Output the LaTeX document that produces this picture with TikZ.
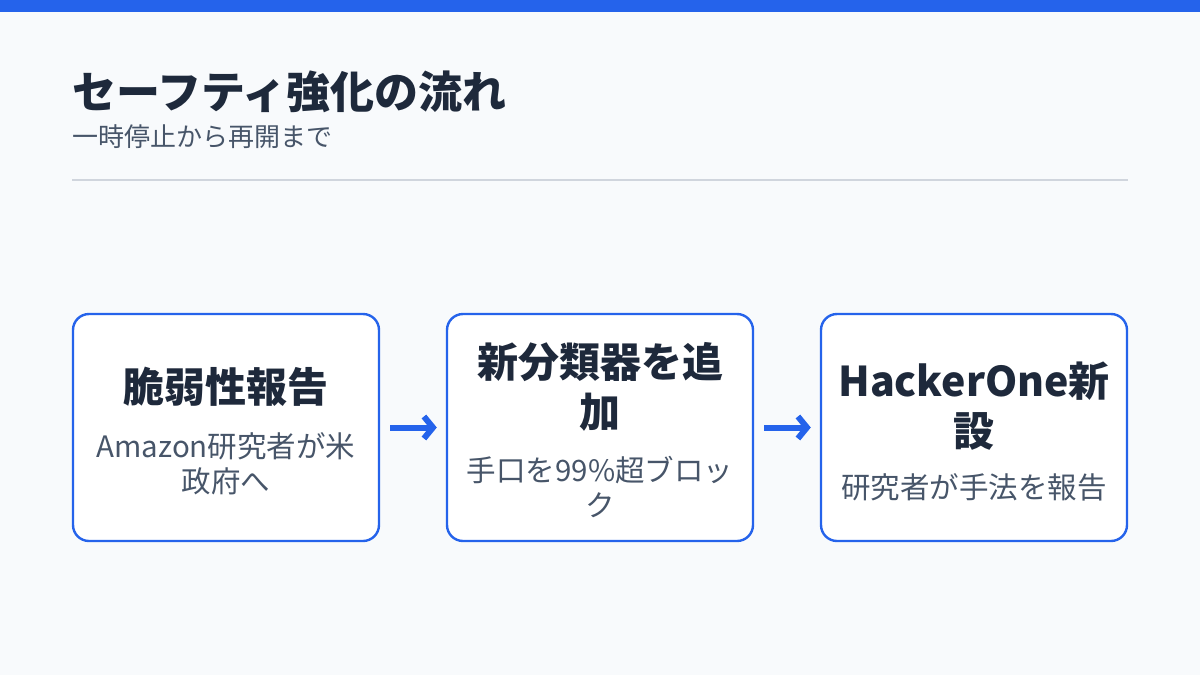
\documentclass[tikz,border=0pt]{standalone}
\usepackage{fontspec}
\setmainfont{Noto Sans CJK JP}
\usepackage{tikz}
\usetikzlibrary{arrows.meta, positioning, calc}
\definecolor{myblue}{RGB}{37,99,235}
\definecolor{myink}{RGB}{30,41,59}
\definecolor{myslate}{RGB}{71,85,105}
\definecolor{mybg}{RGB}{248,250,252}
\definecolor{myrule}{RGB}{208,213,221}
\tikzset{
  stepbox/.style={rectangle, draw=myblue, fill=white, line width=2.4pt,
    rounded corners=16pt, minimum width=306pt, minimum height=227pt},
  boxtitle/.style={align=center, inner sep=0pt, text=myink,
    font=\bfseries\fontsize{41}{50}\selectfont},
  boxdesc/.style={align=center, inner sep=0pt, text=myslate,
    font=\fontsize{29.5}{35}\selectfont},
  flowarrow/.style={-{Straight Barb[length=9pt,width=22pt]}, line width=6pt,
    color=myblue}
}

\begin{document}
\begin{tikzpicture}[x=1pt, y=-1pt]
  \fill[mybg] (0,0) rectangle (1200,675);
  \useasboundingbox (0,0) rectangle (1200,675);
  \fill[myblue] (0,0) rectangle (1200,12);
  % header
  \node[anchor=west, inner sep=0pt, text=myink,
    font=\bfseries\fontsize{44}{50}\selectfont] (title) at (72,92)
    {セーフティ強化の流れ};
  \node[anchor=west, inner sep=0pt, text=myslate,
    font=\fontsize{26}{30}\selectfont] (subtitle) at (72,137)
    {一時停止から再開まで};
  \draw[myrule, line width=1.2pt] (72,180) -- (1128,180);
  % steps
  \node[stepbox] (vuln) at (226,427.5) {};
  \node[stepbox, right=65.6pt of vuln] (clf) {};
  \node[stepbox, right=65.6pt of clf] (hone) {};
  \node[boxtitle] (vulnT) at ($(vuln)+(0,-40.5)$) {脆弱性報告};
  \node[boxdesc] (vulnD) at ($(vuln)+(0,36)$) {Amazon研究者が米\\政府へ};
  \node[boxtitle] (clfT) at ($(clf)+(0,-40.5)$) {新分類器を追\\加};
  \node[boxdesc] (clfD) at ($(clf)+(0,60)$) {手口を99\%超ブロッ\\ク};
  \node[boxtitle] (honeT) at ($(hone)+(0,-21)$) {HackerOne新\\設};
  \node[boxdesc] (honeD) at ($(hone)+(0,59.5)$) {研究者が手法を報告};
  \draw[flowarrow, shorten <=10pt, shorten >=9pt] (vuln) -- (clf);
  \draw[flowarrow, shorten <=10pt, shorten >=9pt] (clf) -- (hone);
\end{tikzpicture}
\end{document}
